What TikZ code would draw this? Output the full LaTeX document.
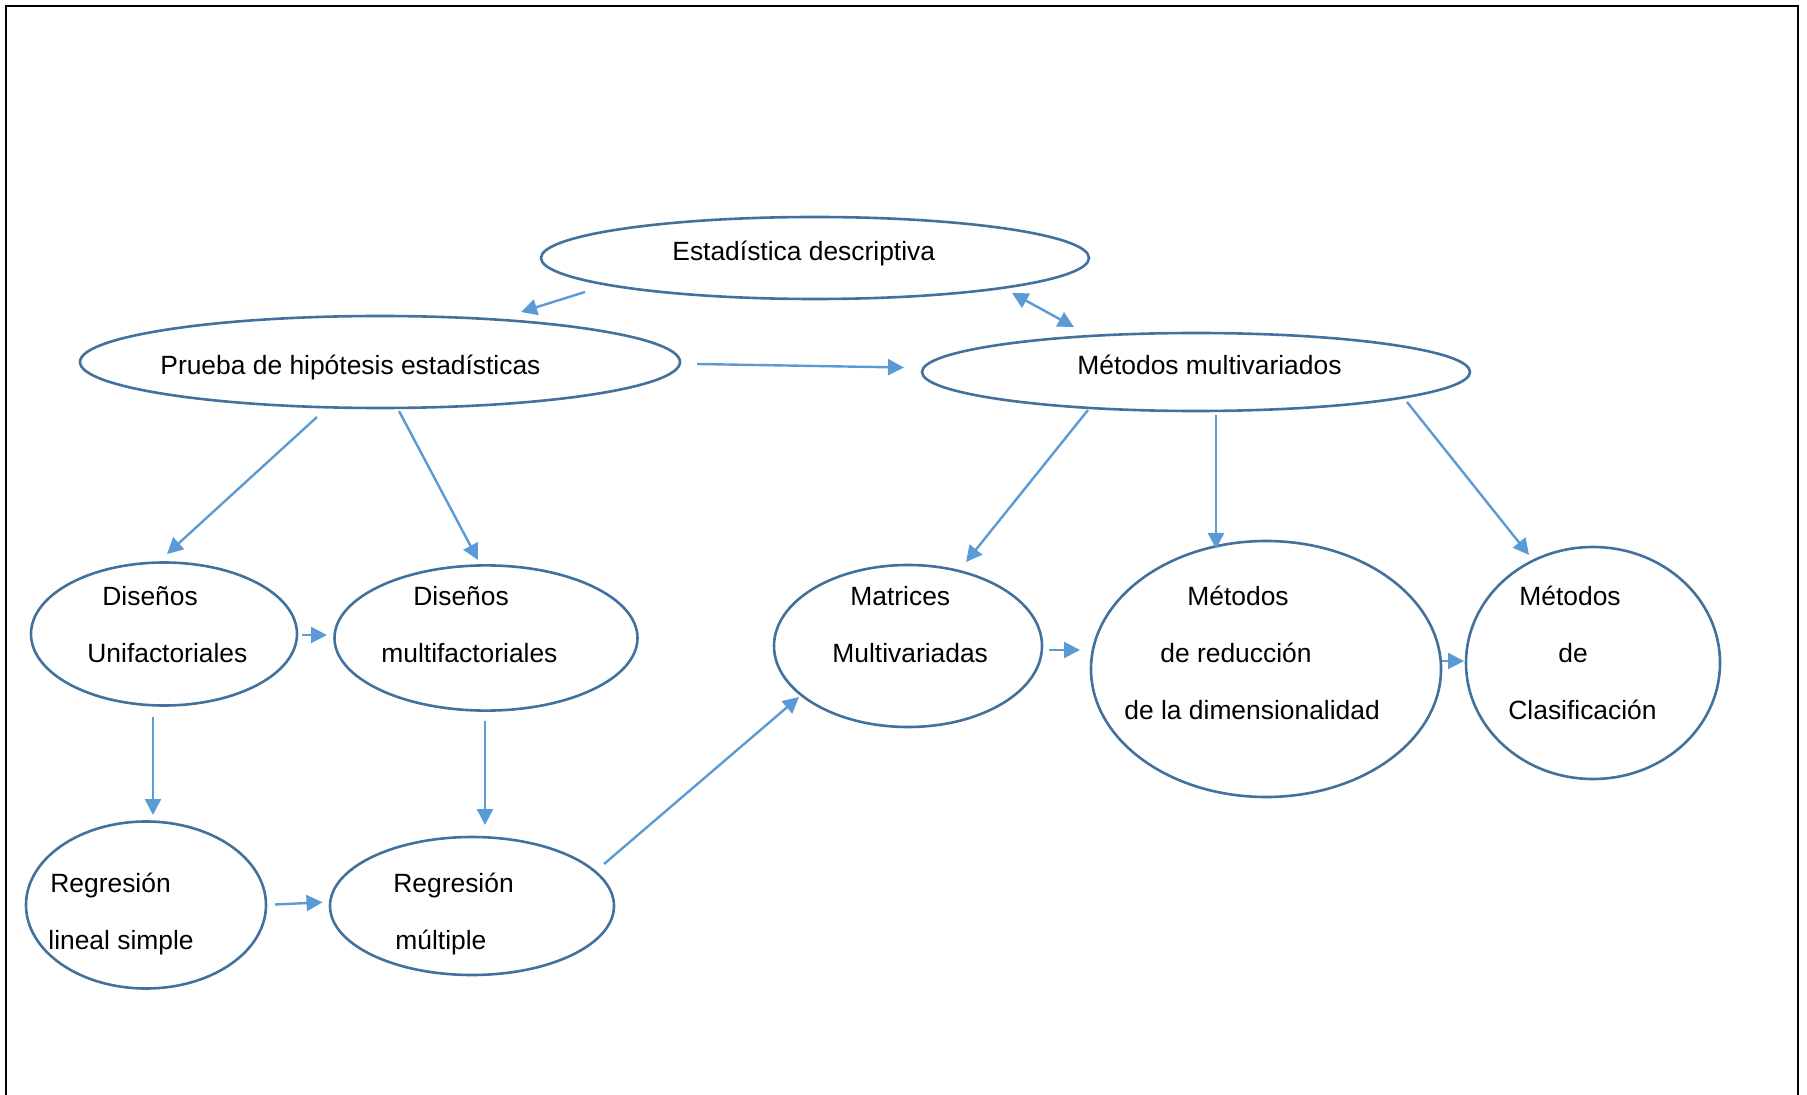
\documentclass[tikz,border=0pt]{standalone}
\usepackage{fontspec}
\setmainfont{Liberation Sans}
\usetikzlibrary{shapes.geometric,arrows.meta}
\definecolor{ellc}{HTML}{41719C}
\definecolor{arrc}{HTML}{5B9BD5}
\begin{document}
\begin{tikzpicture}[x=0.5pt,y=-0.5pt,
  ell/.style={ellipse,draw=ellc,line width=1.3pt,inner sep=0pt,outer sep=0pt},
  txt/.style={anchor=base west,inner sep=0pt,font=\fontsize{13.2pt}{15pt}\selectfont},
  arr/.style={draw=arrc,line width=1.2pt,-{Triangle[length=8pt,width=8pt]}},
  darr/.style={draw=arrc,line width=1.2pt,{Triangle[length=8pt,width=8pt]}-{Triangle[length=8pt,width=8pt]}}]
\useasboundingbox (0,0) rectangle (1807,1095);
\draw[line width=1pt] (6,1097) -- (6,6) -- (1798,6) -- (1798,1097);

% ellipses
\node[ell,minimum width=274pt,minimum height=41pt] (estad) at (815,258) {};
\node[ell,minimum width=300pt,minimum height=46pt] (prueba) at (380,362) {};
\node[ell,minimum width=274pt,minimum height=39pt] (metmult) at (1196,372) {};
\node[ell,minimum width=133pt,minimum height=71.5pt] (dunif) at (164,634) {};
\node[ell,minimum width=151.5pt,minimum height=72.6pt] (dmulti) at (486,638) {};
\node[ell,minimum width=134pt,minimum height=81pt] (matr) at (908,646) {};
\node[ell,minimum width=175pt,minimum height=128pt] (reduc) at (1266,669) {};
\node[ell,minimum width=127pt,minimum height=116pt] (clasif) at (1593,663) {};
\node[ell,minimum width=120pt,minimum height=83.5pt] (reglin) at (146,905) {};
\node[ell,minimum width=142pt,minimum height=69pt] (regmul) at (472,906) {};

% texts
\node[txt] (t1) at (672,261) {Estadística descriptiva};
\node[txt] (t2) at (160,375) {Prueba de hipótesis estadísticas};
\node[txt] (t3) at (1077,375) {Métodos multivariados};
\node[txt] (t4) at (102,605) {Diseños};
\node[txt] (t5) at (87,662) {Unifactoriales};
\node[txt] (t6) at (413,605) {Diseños};
\node[txt] (t7) at (381,662) {multifactoriales};
\node[txt] (t8) at (850,605) {Matrices};
\node[txt] (t9) at (832,662) {Multivariadas};
\node[txt] (t10) at (1187,605) {Métodos};
\node[txt] (t11) at (1160,662) {de reducción};
\node[txt] (t12) at (1124,719) {de la dimensionalidad};
\node[txt] (t13) at (1519,605) {Métodos};
\node[txt] (t14) at (1558,662) {de};
\node[txt] (t15) at (1508,719) {Clasificación};
\node[txt] (t16) at (50,892) {Regresión};
\node[txt] (t17) at (48,949) {lineal simple};
\node[txt] (t18) at (393,892) {Regresión};
\node[txt] (t19) at (395,949) {múltiple};

% connectors
\draw[arr] ([shift={(-230,34)}]estad.center) -- ([shift={(141,-50)}]prueba.center);
\draw[darr] ([shift={(197,35)}]estad.center) -- ([shift={(-122,-45)}]metmult.center);
\draw[arr] ([shift={(317,2)}]prueba.center) -- ([shift={(-292,-4.5)}]metmult.center);
\draw[arr] ([shift={(-63,55)}]prueba.center) -- ([shift={(3,-80)}]dunif.center);
\draw[arr] ([shift={(19,49)}]prueba.center) -- ([shift={(-8,-78)}]dmulti.center);
\draw[arr] ([shift={(-108,38)}]metmult.center) -- ([shift={(58,-84)}]matr.center);
\draw[arr] ([shift={(20,43)}]metmult.center) -- ([shift={(-50,-120)}]reduc.center);
\draw[arr] ([shift={(211,30)}]metmult.center) -- ([shift={(-64,-108)}]clasif.center);
\draw[arr] ([shift={(138,1)}]dunif.center) -- ([shift={(-159,-3)}]dmulti.center);
\draw[arr] ([shift={(-11,83)}]dunif.center) -- ([shift={(7,-90)}]reglin.center);
\draw[arr] ([shift={(-1,83)}]dmulti.center) -- ([shift={(13,-81)}]regmul.center);
\draw[arr] ([shift={(129,-0.5)}]reglin.center) -- ([shift={(-149.5,-3.7)}]regmul.center);
\draw[arr] ([shift={(132,-42)}]regmul.center) -- ([shift={(-109,51)}]matr.center);
\draw[arr] ([shift={(141,4)}]matr.center) -- ([shift={(-186,-19)}]reduc.center);
\draw[arr] ([shift={(176,-8)}]reduc.center) -- ([shift={(-129,-2)}]clasif.center);
\end{tikzpicture}
\end{document}
